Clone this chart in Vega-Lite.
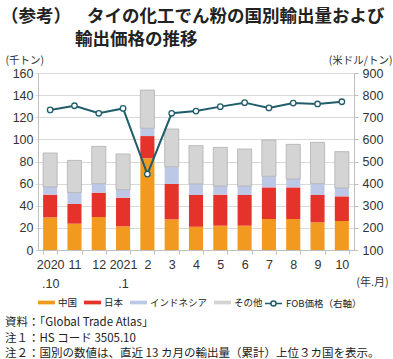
{
  "$schema": "https://vega.github.io/schema/vega-lite/v6.json",
  "padding": {"left": 1, "top": 7, "right": 0, "bottom": 0},
  "title": {
    "text": ["（参考）\u00a0\u00a0\u00a0\u00a0タイの化工でん粉の国別輸出量および", "\u200b\u3000\u3000\u3000\u3000\u00a0輸出価格の推移"],
    "anchor": "start",
    "frame": "bounds",
    "dx": -4,
    "fontSize": 17.5,
    "fontWeight": "bold",
    "lineHeight": 23.5,
    "color": "#222222",
    "offset": 6.5
  },
  "datasets": {
    "bars": [
      {"m": "2020.10", "s": "中国", "o": 1, "v": 29.5}, {"m": "2020.10", "s": "日本", "o": 2, "v": 20.5}, {"m": "2020.10", "s": "インドネシア", "o": 3, "v": 7}, {"m": "2020.10", "s": "その他", "o": 4, "v": 30.7},
      {"m": "11", "s": "中国", "o": 1, "v": 23.8}, {"m": "11", "s": "日本", "o": 2, "v": 17.8}, {"m": "11", "s": "インドネシア", "o": 3, "v": 10.4}, {"m": "11", "s": "その他", "o": 4, "v": 29},
      {"m": "12", "s": "中国", "o": 1, "v": 29.8}, {"m": "12", "s": "日本", "o": 2, "v": 22}, {"m": "12", "s": "インドネシア", "o": 3, "v": 8.2}, {"m": "12", "s": "その他", "o": 4, "v": 33.7},
      {"m": "2021.1", "s": "中国", "o": 1, "v": 21.4}, {"m": "2021.1", "s": "日本", "o": 2, "v": 25.9}, {"m": "2021.1", "s": "インドネシア", "o": 3, "v": 7.2}, {"m": "2021.1", "s": "その他", "o": 4, "v": 32.3},
      {"m": "2", "s": "中国", "o": 1, "v": 83}, {"m": "2", "s": "日本", "o": 2, "v": 20}, {"m": "2", "s": "インドネシア", "o": 3, "v": 7}, {"m": "2", "s": "その他", "o": 4, "v": 34.6},
      {"m": "3", "s": "中国", "o": 1, "v": 27.7}, {"m": "3", "s": "日本", "o": 2, "v": 32}, {"m": "3", "s": "インドネシア", "o": 3, "v": 15.6}, {"m": "3", "s": "その他", "o": 4, "v": 34.1},
      {"m": "4", "s": "中国", "o": 1, "v": 21}, {"m": "4", "s": "日本", "o": 2, "v": 28.7}, {"m": "4", "s": "インドネシア", "o": 3, "v": 10}, {"m": "4", "s": "その他", "o": 4, "v": 34.6},
      {"m": "5", "s": "中国", "o": 1, "v": 22}, {"m": "5", "s": "日本", "o": 2, "v": 28}, {"m": "5", "s": "インドネシア", "o": 3, "v": 7.8}, {"m": "5", "s": "その他", "o": 4, "v": 35},
      {"m": "6", "s": "中国", "o": 1, "v": 22}, {"m": "6", "s": "日本", "o": 2, "v": 27.7}, {"m": "6", "s": "インドネシア", "o": 3, "v": 8.1}, {"m": "6", "s": "その他", "o": 4, "v": 33.5},
      {"m": "7", "s": "中国", "o": 1, "v": 28}, {"m": "7", "s": "日本", "o": 2, "v": 28.6}, {"m": "7", "s": "インドネシア", "o": 3, "v": 10}, {"m": "7", "s": "その他", "o": 4, "v": 32.8},
      {"m": "8", "s": "中国", "o": 1, "v": 28}, {"m": "8", "s": "日本", "o": 2, "v": 28.6}, {"m": "8", "s": "インドネシア", "o": 3, "v": 7.6}, {"m": "8", "s": "その他", "o": 4, "v": 31.3},
      {"m": "9", "s": "中国", "o": 1, "v": 25}, {"m": "9", "s": "日本", "o": 2, "v": 24.7}, {"m": "9", "s": "インドネシア", "o": 3, "v": 10.3}, {"m": "9", "s": "その他", "o": 4, "v": 37.3},
      {"m": "10", "s": "中国", "o": 1, "v": 26.2}, {"m": "10", "s": "日本", "o": 2, "v": 22.3}, {"m": "10", "s": "インドネシア", "o": 3, "v": 7.5}, {"m": "10", "s": "その他", "o": 4, "v": 32.9}
    ],
    "price": [
      {"m": "2020.10", "p": 733}, {"m": "11", "p": 752}, {"m": "12", "p": 718}, {"m": "2021.1", "p": 740},
      {"m": "2", "p": 443}, {"m": "3", "p": 718}, {"m": "4", "p": 728}, {"m": "5", "p": 748},
      {"m": "6", "p": 766}, {"m": "7", "p": 742}, {"m": "8", "p": 764}, {"m": "9", "p": 760}, {"m": "10", "p": 770}
    ]
  },
  "vconcat": [
    {
      "width": 316,
      "height": 177,
      "title": {
        "text": ["資料：「Global Trade Atlas」", "注１：HS コード 3505.10", "注２：国別の数値は、直近 13 カ月の輸出量（累計）上位３カ国を表示。"],
        "orient": "bottom",
        "anchor": "start",
        "frame": "bounds",
        "fontSize": 11.5,
        "fontWeight": "normal",
        "lineHeight": 15.5,
        "color": "#222222",
        "offset": 7
      },
      "layer": [
        {
          "data": {"name": "bars"},
          "mark": {"type": "bar", "strokeWidth": 0.8},
          "encoding": {
            "x": {
              "field": "m", "type": "nominal", "sort": null,
              "scale": {"paddingInner": 0.42, "paddingOuter": 0.21},
              "axis": {
                "title": "(年.月)",
                "titleX": 334, "titleY": 32, "titleAlign": "center", "titleBaseline": "middle",
                "titleFontSize": 11, "titleFontWeight": "normal", "titleColor": "#333333",
                "labelAngle": 0, "labelFontSize": 12.5, "labelColor": "#333333", "labelFont": "Liberation Sans",
                "labelPadding": 4, "labelLineHeight": 19, "labelBaseline": "top",
                "labelExpr": "indexof(datum.label, '.') > 0 ? [slice(datum.label, 0, 4), slice(datum.label, 4)] : datum.label",
                "domainColor": "#bfbfbf", "tickColor": "#bfbfbf", "tickBand": "extent", "tickSize": 4, "grid": false
              }
            },
            "y": {
              "field": "v", "type": "quantitative", "stack": "zero",
              "scale": {"domain": [0, 160], "nice": false},
              "axis": {
                "title": "(千トン)", "titleAngle": 0, "titleAlign": "left", "titleBaseline": "middle",
                "titleX": -33, "titleY": -13, "titleFontSize": 10.5, "titleFontWeight": "normal", "titleColor": "#333333",
                "values": [0, 20, 40, 60, 80, 100, 120, 140, 160],
                "labelFontSize": 12.5, "labelColor": "#333333", "labelFont": "Liberation Sans", "labelPadding": 2,
                "grid": true, "gridColor": "#d9d9d9", "domainColor": "#bfbfbf", "tickColor": "#d9d9d9", "tickSize": 3
              }
            },
            "order": {"field": "o", "type": "quantitative", "sort": "ascending"},
            "color": {
              "field": "s", "type": "nominal",
              "sort": ["中国", "日本", "インドネシア", "その他"],
              "scale": {
                "domain": ["中国", "日本", "インドネシア", "その他"],
                "range": ["#f29a20", "#e5332b", "#bcc8e6", "#d4d4d4"]
              },
              "legend": {
                "orient": "none", "legendX": 0, "legendY": 221,
                "direction": "horizontal", "columns": 4, "title": null,
                "labelFontSize": 9.5, "labelColor": "#222222", "labelOffset": 3, "columnPadding": 6,
                "symbolType": "M-1,-0.22H1V0.22H-1Z", "symbolSize": 289, "symbolStrokeWidth": 0, "padding": 0
              }
            },
            "stroke": {
              "condition": {"test": "datum.s === 'その他'", "value": "#b0b0b0"},
              "value": null
            }
          }
        },
        {
          "data": {"name": "price"},
          "mark": {"type": "line", "strokeWidth": 2},
          "encoding": {
            "x": {"field": "m", "type": "nominal", "sort": null},
            "y": {
              "field": "p", "type": "quantitative",
              "scale": {"domain": [100, 900], "nice": false},
              "axis": {
                "orient": "right",
                "title": "(米ドル/トン)", "titleAngle": 0, "titleAlign": "right", "titleBaseline": "middle",
                "titleX": 38, "titleY": -13, "titleFontSize": 10.5, "titleFontWeight": "normal", "titleColor": "#333333",
                "values": [100, 200, 300, 400, 500, 600, 700, 800, 900],
                "labelFontSize": 12.5, "labelColor": "#333333", "labelFont": "Liberation Sans", "labelPadding": 4,
                "grid": false, "domainColor": "#bfbfbf", "tickColor": "#bfbfbf", "tickSize": 4
              }
            },
            "color": {
              "datum": "FOB価格（右軸）",
              "scale": {"range": ["#1f5d6b"]},
              "legend": {
                "orient": "none", "legendX": 226, "legendY": 221, "title": null,
                "labelFontSize": 9.5, "labelColor": "#222222", "labelOffset": 3, "padding": 0,
                "symbolType": "M-1,0H-0.3A0.3,0.3 0 1,1 0.3,0A0.3,0.3 0 1,1 -0.3,0M0.3,0H1",
                "symbolSize": 289, "symbolFillColor": "white", "symbolStrokeColor": "#1f5d6b", "symbolStrokeWidth": 1.5
              }
            }
          }
        },
        {
          "data": {"name": "price"},
          "mark": {"type": "point", "filled": true, "fill": "white", "stroke": "#1f5d6b", "strokeWidth": 1.3, "size": 30, "opacity": 1},
          "encoding": {
            "x": {"field": "m", "type": "nominal", "sort": null},
            "y": {"field": "p", "type": "quantitative", "scale": {"domain": [100, 900], "nice": false}, "axis": null}
          }
        }
      ],
      "resolve": {"scale": {"y": "independent", "color": "independent"}, "axis": {"y": "independent"}, "legend": {"color": "independent"}}
    }
  ],
  "config": {
    "font": "Noto Sans CJK JP",
    "view": {"stroke": null},
    "legend": {"labelFont": "Noto Sans CJK JP"}
  }
}
